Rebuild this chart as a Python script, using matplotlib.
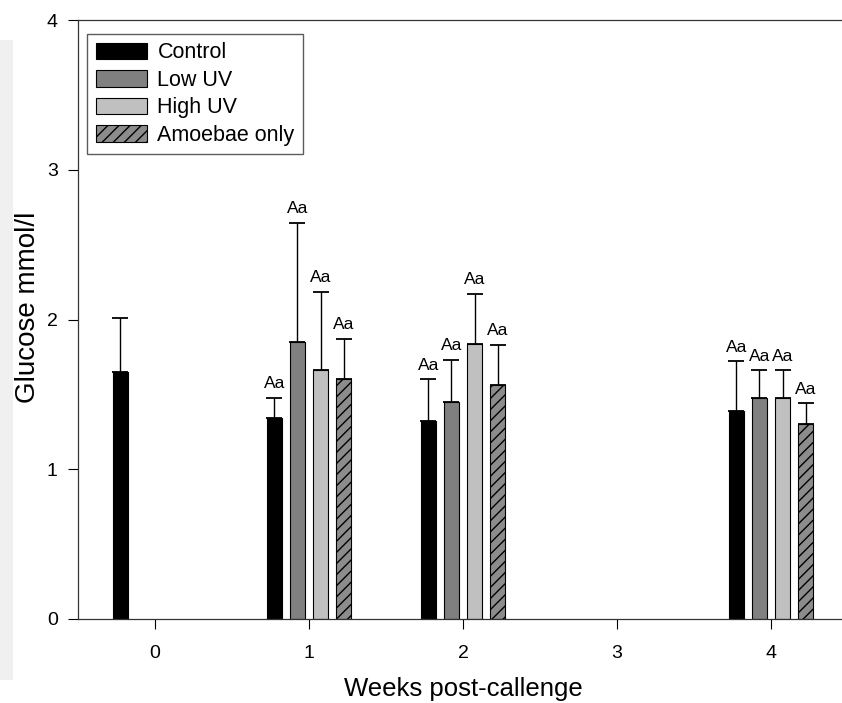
import matplotlib.pyplot as plt
import numpy as np
from matplotlib.patches import Rectangle

plt.rcParams["font.family"] = ["Liberation Sans", "DejaVu Sans"]
plt.rcParams["hatch.linewidth"] = 1.0

weeks = [0, 1, 2, 3, 4]
groups = ["Control", "Low UV", "High UV", "Amoebae only"]

# means and upper error (mean + SD) per group, NaN where not measured
control = [1.65, 1.34, 1.32, np.nan, 1.39]
control_top = [2.01, 1.475, 1.60, np.nan, 1.72]
low_uv = [np.nan, 1.85, 1.45, np.nan, 1.475]
low_uv_top = [np.nan, 2.645, 1.73, np.nan, 1.66]
high_uv = [np.nan, 1.66, 1.835, np.nan, 1.475]
high_uv_top = [np.nan, 2.185, 2.17, np.nan, 1.66]
amoebae = [np.nan, 1.60, 1.56, np.nan, 1.30]
amoebae_top = [np.nan, 1.87, 1.83, np.nan, 1.44]
letters = "Aa"

means = [control, low_uv, high_uv, amoebae]
tops = [control_top, low_uv_top, high_uv_top, amoebae_top]
faces = ["#000000", "#808080", "#c0c0c0", "#8c8c8c"]
hatches = [None, None, None, "///"]
offsets = [-0.225, -0.075, 0.075, 0.225]
width = 0.095

fig = plt.figure(figsize=(8.42, 7.03), dpi=100)
# light grey strip at the left edge of the original scan
fig.patches.append(Rectangle((0, 0.033), 0.016, 0.91, transform=fig.transFigure,
                             facecolor="#f0f0f0", edgecolor="none", zorder=-1))
ax = fig.add_axes([0.0926, 0.1195, 0.9145, 0.852])

x = np.array(weeks, dtype=float)
for i, name in enumerate(groups):
    m = np.array(means[i])
    t = np.array(tops[i])
    pos = x + offsets[i]
    ok = ~np.isnan(m)
    ax.bar(pos[ok], m[ok], width, color=faces[i], edgecolor="black",
           linewidth=0.8, hatch=hatches[i], label=name, zorder=2)
    ax.errorbar(pos[ok], m[ok], yerr=[np.zeros(ok.sum()), t[ok] - m[ok]],
                fmt="none", ecolor="black", elinewidth=1, capsize=6,
                capthick=1.3, zorder=3)
    # letters above every bar except week 0
    for px, py in zip(pos[ok], t[ok]):
        if px < 0:
            continue
        ax.text(px, py + 0.045, letters, ha="center", va="bottom",
                fontsize=12.5)

ax.set_xlim(-0.5, 4.5)
ax.set_ylim(0, 4)
ax.set_xticks(weeks)
ax.set_yticks([0, 1, 2, 3, 4])
ax.tick_params(direction="out", length=7.5, width=0.8, labelsize=14)
ax.tick_params(axis="y", pad=7)
ax.tick_params(axis="x", pad=11)
for s in ax.spines.values():
    s.set_linewidth(0.9)
    s.set_color("#333333")
ax.set_ylabel("Glucose mmol/l", fontsize=20)
ax.yaxis.set_label_coords(-0.048, 0.52)
ax.set_xlabel("Weeks post-callenge", fontsize=18.5, labelpad=11)

ax.legend(loc="upper left", fontsize=15.5, frameon=True, fancybox=False,
          edgecolor="#333333", handlelength=2.36, handleheight=0.8,
          borderpad=0.4, labelspacing=0.3, handletextpad=0.5,
          bbox_to_anchor=(0.012, 0.977), borderaxespad=0)

fig.savefig("out.png", dpi=100)
